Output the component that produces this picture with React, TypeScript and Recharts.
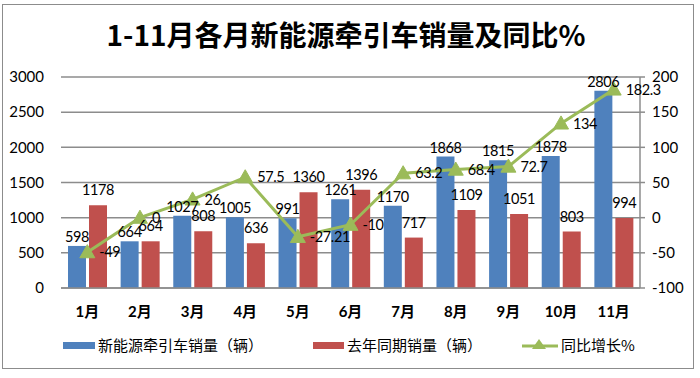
import { ComposedChart, Bar, Line, XAxis, YAxis, CartesianGrid, LabelList } from "recharts";

const months = ["1月", "2月", "3月", "4月", "5月", "6月", "7月", "8月", "9月", "10月", "11月"];
const salesThisYear = [598, 664, 1027, 1005, 991, 1261, 1170, 1868, 1815, 1878, 2806];
const salesLastYear = [1178, 664, 808, 636, 1360, 1396, 717, 1109, 1051, 803, 994];
const yoyGrowth = [-49, 0, 26, 57.5, -27.21, -10, 63.2, 68.4, 72.7, 134, 182.3];

const leftTicks = [0, 500, 1000, 1500, 2000, 2500, 3000];
const rightTicks = [-100, -50, 0, 50, 100, 150, 200];

const BLUE = "#4F81BD";
const RED = "#C0504D";
const GREEN = "#9BBB59";
const FONT = "Lato, 'Noto Sans CJK SC', sans-serif";
const CJK = "'Noto Sans CJK SC', Lato, sans-serif";

const data = months.map((m, i) => ({
  month: m,
  cur: salesThisYear[i],
  prev: salesLastYear[i],
  yoy: yoyGrowth[i],
}));

const labelStyle = { fontFamily: FONT, fontSize: 14.5, fill: "#000", letterSpacing: -0.4 };

// triangle marker like the excel one
const Triangle = (props: any) => {
  const { cx, cy } = props;
  if (cx == null || cy == null) return null;
  const s = 7.5;
  return (
    <path
      d={`M${cx},${cy - s} L${cx + s},${cy + s * 0.75} L${cx - s},${cy + s * 0.75} Z`}
      fill={GREEN}
      stroke={GREEN}
    />
  );
};

export default function App() {
  return (
    <div style={{ position: "absolute", left: 0, top: 0, width: 700, height: 378, background: "#fff" }}>
      <div
        style={{
          position: "absolute",
          left: 2,
          top: 4,
          width: 692,
          height: 365,
          border: "1px solid #8c8c8c",
          boxSizing: "border-box",
        }}
      />
      <div
        style={{
          position: "absolute",
          left: 0,
          top: 14,
          width: 692,
          textAlign: "center",
          fontFamily: CJK,
          fontWeight: 700,
          fontSize: 28,
          lineHeight: "40px",
          color: "#000",
        }}
      >
        1-11月各月新能源牵引车销量及同比%
      </div>

      <div style={{ position: "absolute", left: 0, top: 0 }}>
        <ComposedChart
          width={700}
          height={378}
          data={data}
          margin={{ top: 77, right: 0, bottom: 60, left: 0 }}
          barSize={18}
          barGap={3}
        >
          <CartesianGrid yAxisId="left" vertical={false} stroke="#8c8c8c" strokeWidth={1.5} />
          <XAxis
            dataKey="month"
            height={30}
            tickLine={false}
            tickMargin={12}
            axisLine={{ stroke: "#8c8c8c", strokeWidth: 1.5 }}
            tick={{ fontFamily: FONT, fontSize: 15, fontWeight: 700, fill: "#000" }}
          />
          <YAxis
            yAxisId="left"
            width={61}
            domain={[0, 3000]}
            ticks={leftTicks}
            axisLine={false}
            tickLine={false}
            tickMargin={11}
            tick={{ fontFamily: FONT, fontSize: 15, fill: "#000" }}
          />
          <YAxis
            yAxisId="right"
            orientation="right"
            width={60}
            domain={[-100, 200]}
            ticks={rightTicks}
            axisLine={{ stroke: "#8c8c8c", strokeWidth: 1.5 }}
            tickLine={{ stroke: "#8c8c8c", strokeWidth: 1.5 }}
            tickSize={5}
            tickMargin={7}
            tick={{ fontFamily: FONT, fontSize: 15, fill: "#000", textAnchor: "start" }}
          />
          <Bar yAxisId="left" dataKey="cur" name="新能源牵引车销量（辆）" fill={BLUE} isAnimationActive={false}>
            <LabelList dataKey="cur" position="top" offset={4} style={labelStyle} />
          </Bar>
          <Bar yAxisId="left" dataKey="prev" name="去年同期销量（辆）" fill={RED} isAnimationActive={false}>
            <LabelList dataKey="prev" position="top" offset={10} style={labelStyle} />
          </Bar>
          <Line
            yAxisId="right"
            dataKey="yoy"
            name="同比增长%"
            stroke={GREEN}
            strokeWidth={3}
            dot={<Triangle />}
            activeDot={false}
            isAnimationActive={false}
          >
            <LabelList dataKey="yoy" position="right" offset={12} style={labelStyle} />
          </Line>
        </ComposedChart>
      </div>

      {/* legend */}
      <div
        style={{
          position: "absolute",
          left: 0,
          top: 334,
          width: 700,
          height: 22,
          fontFamily: CJK,
          fontSize: 15,
          color: "#000",
        }}
      >
        <div style={{ position: "absolute", left: 63, top: 8, width: 32, height: 7, background: BLUE }} />
        <div style={{ position: "absolute", left: 98, top: 0, lineHeight: "22px", whiteSpace: "nowrap" }}>
          新能源牵引车销量（辆）
        </div>
        <div style={{ position: "absolute", left: 313, top: 8, width: 31, height: 7, background: RED }} />
        <div style={{ position: "absolute", left: 347, top: 0, lineHeight: "22px", whiteSpace: "nowrap" }}>
          去年同期销量（辆）
        </div>
        <svg style={{ position: "absolute", left: 520, top: 0 }} width={40} height={22}>
          <line x1={2} y1={12} x2={38} y2={12} stroke={GREEN} strokeWidth={3} />
          <path d="M19,5 L26,15 L12,15 Z" fill={GREEN} />
        </svg>
        <div style={{ position: "absolute", left: 561, top: 0, lineHeight: "22px", whiteSpace: "nowrap" }}>
          同比增长%
        </div>
      </div>
    </div>
  );
}
